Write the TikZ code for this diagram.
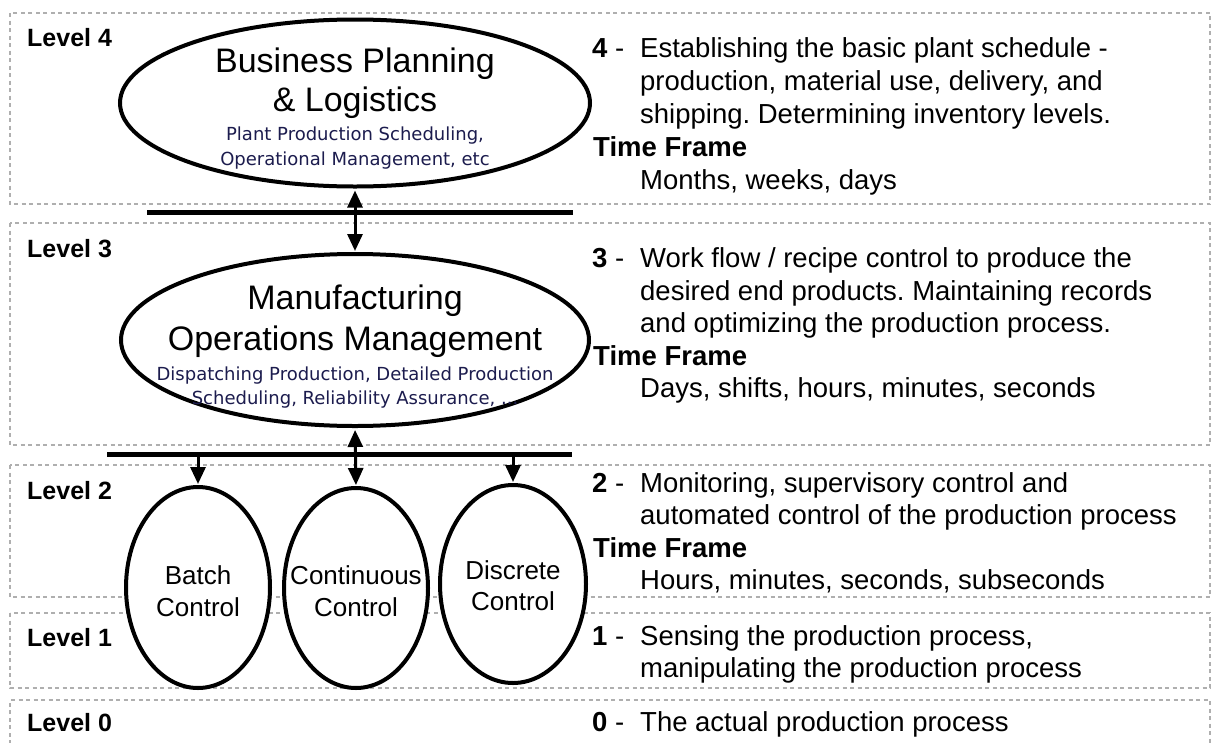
\documentclass[tikz,border=0pt]{standalone}
\usepackage{fontspec}
\setmainfont{Liberation Sans}
\newfontfamily\smallfont{DejaVu Sans}
\usetikzlibrary{shapes.geometric,arrows.meta}
\definecolor{navy}{RGB}{28,28,78}
\definecolor{bandgray}{RGB}{175,175,175}
\frenchspacing
\begin{document}
\begin{tikzpicture}[x=1pt,y=-1pt,
  band/.style={draw=bandgray, line width=1.6pt, dash pattern=on 4pt off 3.5pt},
  oval/.style={ellipse, draw=black, line width=4pt, inner sep=0pt, fill=white},
  bus/.style={line width=5pt},
  conn/.style={line width=3pt, -{Triangle[length=17pt,width=15pt]}},
  both/.style={line width=3pt, {Triangle[length=17pt,width=15pt]}-{Triangle[length=17pt,width=15pt]}},
  lvl/.style={anchor=base west, inner sep=0pt, font=\fontsize{25}{28}\selectfont\bfseries},
  desc/.style={anchor=base west, inner sep=0pt, font=\fontsize{27.5}{33}\selectfont},
  tf/.style={anchor=base west, inner sep=0pt, font=\fontsize{27.5}{33}\selectfont\bfseries},
  title/.style={anchor=base, inner sep=0pt, font=\fontsize{34}{39}\selectfont},
  sub/.style={anchor=base, inner sep=0pt, text=navy, font=\fontsize{18}{22}\smallfont},
  ctl/.style={anchor=base, inner sep=0pt, font=\fontsize{26}{31}\selectfont},
]
\useasboundingbox (0,0) rectangle (1213,742);
\fill[white] (0,0) rectangle (1213,742);

% level bands
\draw[band] (10,13) rectangle (1210,204);
\draw[band] (10,223) rectangle (1210,445);
\draw[band] (10,465) rectangle (1210,597);
\draw[band] (10,613) rectangle (1210,688);
\draw[band] (10,744) -- (10,700) -- (1210,700) -- (1210,744);

% level labels
\node[lvl] (l4) at (27,46) {Level 4};
\node[lvl] (l3) at (27,257) {Level 3};
\node[lvl] (l2) at (27,499) {Level 2};
\node[lvl] (l1) at (27,646) {Level 1};
\node[lvl] (l0) at (27,731) {Level 0};

% buses
\coordinate (b1l) at (147,212); \coordinate (b1r) at (573,212);
\coordinate (b2l) at (107,454); \coordinate (b2r) at (572,454);
\draw[bus] (b1l) -- (b1r);
\draw[bus] (b2l) -- (b2r);

% ellipses
\node[oval, minimum width=470pt, minimum height=167pt] (bp) at (355,103) {};
\node[oval, minimum width=468pt, minimum height=172pt] (mom) at (355,340) {};
\node[oval, minimum width=144pt, minimum height=201pt] (batch) at (198,587.5) {};
\node[oval, minimum width=144pt, minimum height=200pt] (cont) at (356,588) {};
\node[oval, minimum width=146pt, minimum height=198pt] (disc) at (513,584) {};

% ellipse texts
\node[title] (bp1) at (355,72) {Business Planning};
\node[title] (bp2) at (355,111) {\& Logistics};
\node[sub] (bp3) at (355,140) {Plant Production Scheduling,};
\node[sub] (bp4) at (355,165) {Operational Management, etc};
\node[title] (mo1) at (355,309) {Manufacturing};
\node[title] (mo2) at (355,350) {Operations Management};
\node[sub] (mo3) at (355,380) {Dispatching Production, Detailed Production};
\node[sub] (mo4) at (355,404) {Scheduling, Reliability Assurance, ...};
\node[ctl] (ba1) at (198,584) {Batch};
\node[ctl] (ba2) at (198,616) {Control};
\node[ctl] (co1) at (356,584) {Continuous};
\node[ctl] (co2) at (356,616) {Control};
\node[ctl] (di1) at (513,579) {Discrete};
\node[ctl] (di2) at (513,610) {Control};

% connectors
\draw[both, shorten <=2pt, shorten >=1pt] (bp.south) -- (mom.north);
\draw[both, shorten <=2pt, shorten >=1pt] (mom.south) -- (cont.north);
\draw[conn, shorten >=1pt] (batch.north |- b2l) -- (batch.north);
\draw[conn, shorten >=1pt] (disc.north |- b2l) -- (disc.north);

% right descriptions
\node[desc] (n4) at (592,57) {\textbf{4} -};
\node[desc] (d4a) at (640,57) {Establishing the basic plant schedule -};
\node[desc] (d4b) at (640,90) {production, material use, delivery, and};
\node[desc] (d4c) at (640,123) {shipping. Determining inventory levels.};
\node[tf] (t4) at (593,156) {Time Frame};
\node[desc] (f4) at (640,189) {Months, weeks, days};

\node[desc] (n3) at (592,267) {\textbf{3} -};
\node[desc] (d3a) at (640,267) {Work flow / recipe control to produce the};
\node[desc] (d3b) at (640,300) {desired end products. Maintaining records};
\node[desc] (d3c) at (640,332) {and optimizing the production process.};
\node[tf] (t3) at (593,365) {Time Frame};
\node[desc] (f3) at (640,397) {Days, shifts, hours, minutes, seconds};

\node[desc] (n2) at (592,492) {\textbf{2} -};
\node[desc] (d2a) at (640,492) {Monitoring, supervisory control and};
\node[desc] (d2b) at (640,524) {automated control of the production process};
\node[tf] (t2) at (593,557) {Time Frame};
\node[desc] (f2) at (640,589) {Hours, minutes, seconds, subseconds};

\node[desc] (n1) at (592,645) {\textbf{1} -};
\node[desc] (d1a) at (640,645) {Sensing the production process,};
\node[desc] (d1b) at (640,677) {manipulating the production process};

\node[desc] (n0) at (592,731) {\textbf{0} -};
\node[desc] (d0a) at (640,731) {The actual production process};
\end{tikzpicture}
\end{document}
